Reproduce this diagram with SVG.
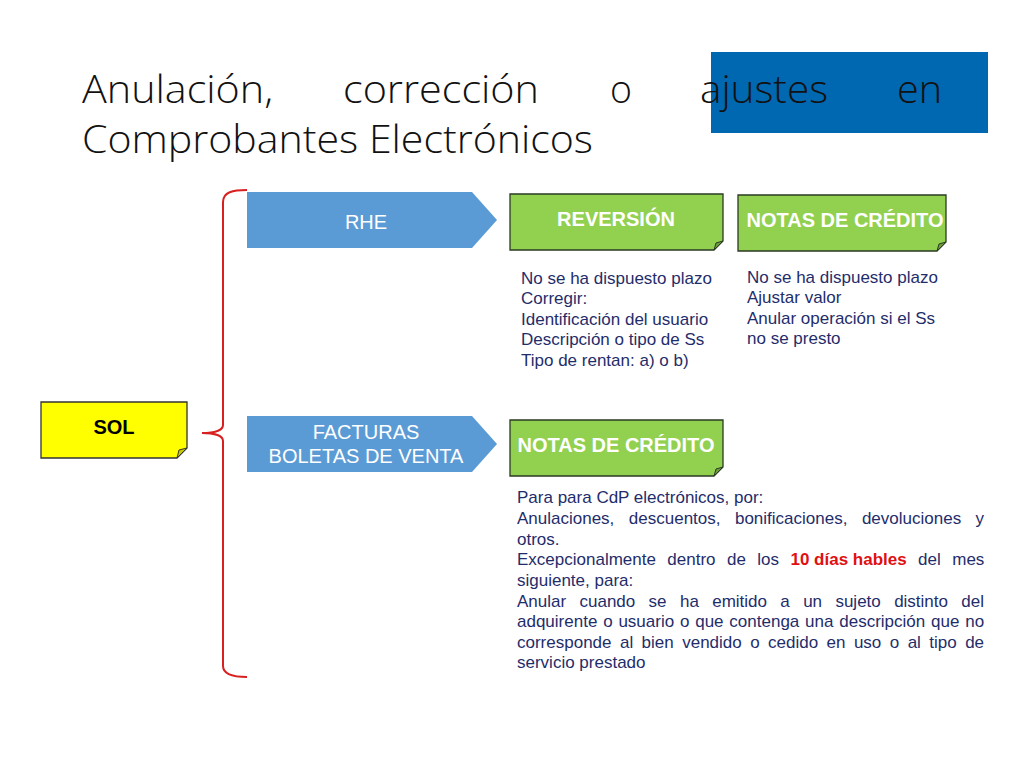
<svg xmlns="http://www.w3.org/2000/svg" width="1024" height="768" viewBox="0 0 1024 768">
<style>
.title{font-family:"Open Sans","Liberation Sans",sans-serif;font-weight:300;font-size:38px;fill:#111}
.lbl{font-family:"Liberation Sans",Arial,sans-serif;font-size:20px;fill:#fff;text-anchor:middle}
.blbl{font-family:"Liberation Sans",Arial,sans-serif;font-size:20px;font-weight:bold;text-anchor:middle}
.body{font-family:"Liberation Sans",Arial,sans-serif;font-size:17px;fill:#1f2d6b}
.arrow{fill:#5b9bd5}
.green{fill:#92d050;stroke:#2b3a23;stroke-width:1.3}
.yellow{fill:#ffff00;stroke:#333;stroke-width:1.3}
.foldg{fill:#6e9e3c;stroke:#2b3a23;stroke-width:1}
.foldy{fill:#c8c800;stroke:#333;stroke-width:1}
.red{fill:#e01010;font-weight:bold}
</style>
<rect x="711" y="52" width="277" height="81" fill="#0067b1"/>
<g id="title">
<text class="title" x="82" y="103" textLength="191" lengthAdjust="spacingAndGlyphs">Anulación,</text>
<text class="title" x="343" y="103" textLength="196" lengthAdjust="spacingAndGlyphs">corrección</text>
<text class="title" x="610" y="103" textLength="22" lengthAdjust="spacingAndGlyphs">o</text>
<text class="title" x="700" y="103" textLength="128" lengthAdjust="spacingAndGlyphs">ajustes</text>
<text class="title" x="897" y="103" textLength="45" lengthAdjust="spacingAndGlyphs">en</text>
<text class="title" x="82" y="153" textLength="511" lengthAdjust="spacingAndGlyphs">Comprobantes Electrónicos</text>
</g>
<g id="connectors">
<path d="M247,190 C233,190 223,192 223,202 L223,425 C223,430 215,433 202,433 C215,433 223,436 223,441 L223,666 C223,674 233,677 247,677" fill="none" stroke="#d92020" stroke-width="2"/>
</g>
<g id="sol">
<path class="yellow" d="M41,402 H187 V448 L177,458 H41 Z"/>
<path class="foldy" d="M187,448 L177,458 L179,450 Z"/>
<text class="blbl" x="114" y="434" fill="#000">SOL</text>
</g>
<g id="rhe">
<path class="arrow" d="M247,192 H472 L497,220 L472,248 H247 Z"/>
<text class="lbl" x="366" y="229">RHE</text>
</g>
<g id="facturas">
<path class="arrow" d="M247,416 H472 L497,444 L472,472 H247 Z"/>
<text class="lbl" x="366" y="439">FACTURAS</text>
<text class="lbl" x="366" y="463">BOLETAS DE VENTA</text>
</g>
<g id="reversion">
<path class="green" d="M510,194 H723 V241 L714,250 H510 Z"/>
<path class="foldg" d="M723,241 L714,250 L716,243 Z"/>
<text class="blbl" x="616" y="226" fill="#fff">REVERSIÓN</text>
</g>
<g id="notas1">
<path class="green" d="M738,195 H946 V242 L937,251 H738 Z"/>
<path class="foldg" d="M946,242 L937,251 L939,244 Z"/>
<text class="blbl" x="845" y="227" fill="#fff">NOTAS DE CRÉDITO</text>
</g>
<g id="notas2">
<path class="green" d="M510,420 H723 V467 L714,476 H510 Z"/>
<path class="foldg" d="M723,467 L714,476 L716,469 Z"/>
<text class="blbl" x="616" y="452" fill="#fff">NOTAS DE CRÉDITO</text>
</g>
<g id="reversion-text">
<text class="body" x="521" y="284">No se ha dispuesto plazo</text>
<text class="body" x="521" y="304">Corregir:</text>
<text class="body" x="521" y="325">Identificación del usuario</text>
<text class="body" x="521" y="345">Descripción o tipo de Ss</text>
<text class="body" x="521" y="366">Tipo de rentan: a) o b)</text>
</g>
<g id="notas1-text">
<text class="body" x="747" y="283">No se ha dispuesto plazo</text>
<text class="body" x="747" y="303">Ajustar valor</text>
<text class="body" x="747" y="324">Anular operación si el Ss</text>
<text class="body" x="747" y="344">no se presto</text>
</g>
<g id="notas2-text">
<text class="body" x="517" y="503">Para para CdP electrónicos, por:</text>
<text class="body" x="517" y="524" word-spacing="9.75">Anulaciones, descuentos, bonificaciones, devoluciones y</text>
<text class="body" x="517" y="545">otros.</text>
<text class="body" x="517" y="565" word-spacing="6.7">Excepcionalmente dentro de los <tspan class="red" word-spacing="0">10 días hables</tspan> del mes</text>
<text class="body" x="517" y="586">siguiente, para:</text>
<text class="body" x="517" y="607" word-spacing="8.63">Anular cuando se ha emitido a un sujeto distinto del</text>
<text class="body" x="517" y="627" word-spacing="1.07">adquirente o usuario o que contenga una descripción que no</text>
<text class="body" x="517" y="648" word-spacing="3.71">corresponde al bien vendido o cedido en uso o al tipo de</text>
<text class="body" x="517" y="668">servicio prestado</text>
</g>
</svg>
